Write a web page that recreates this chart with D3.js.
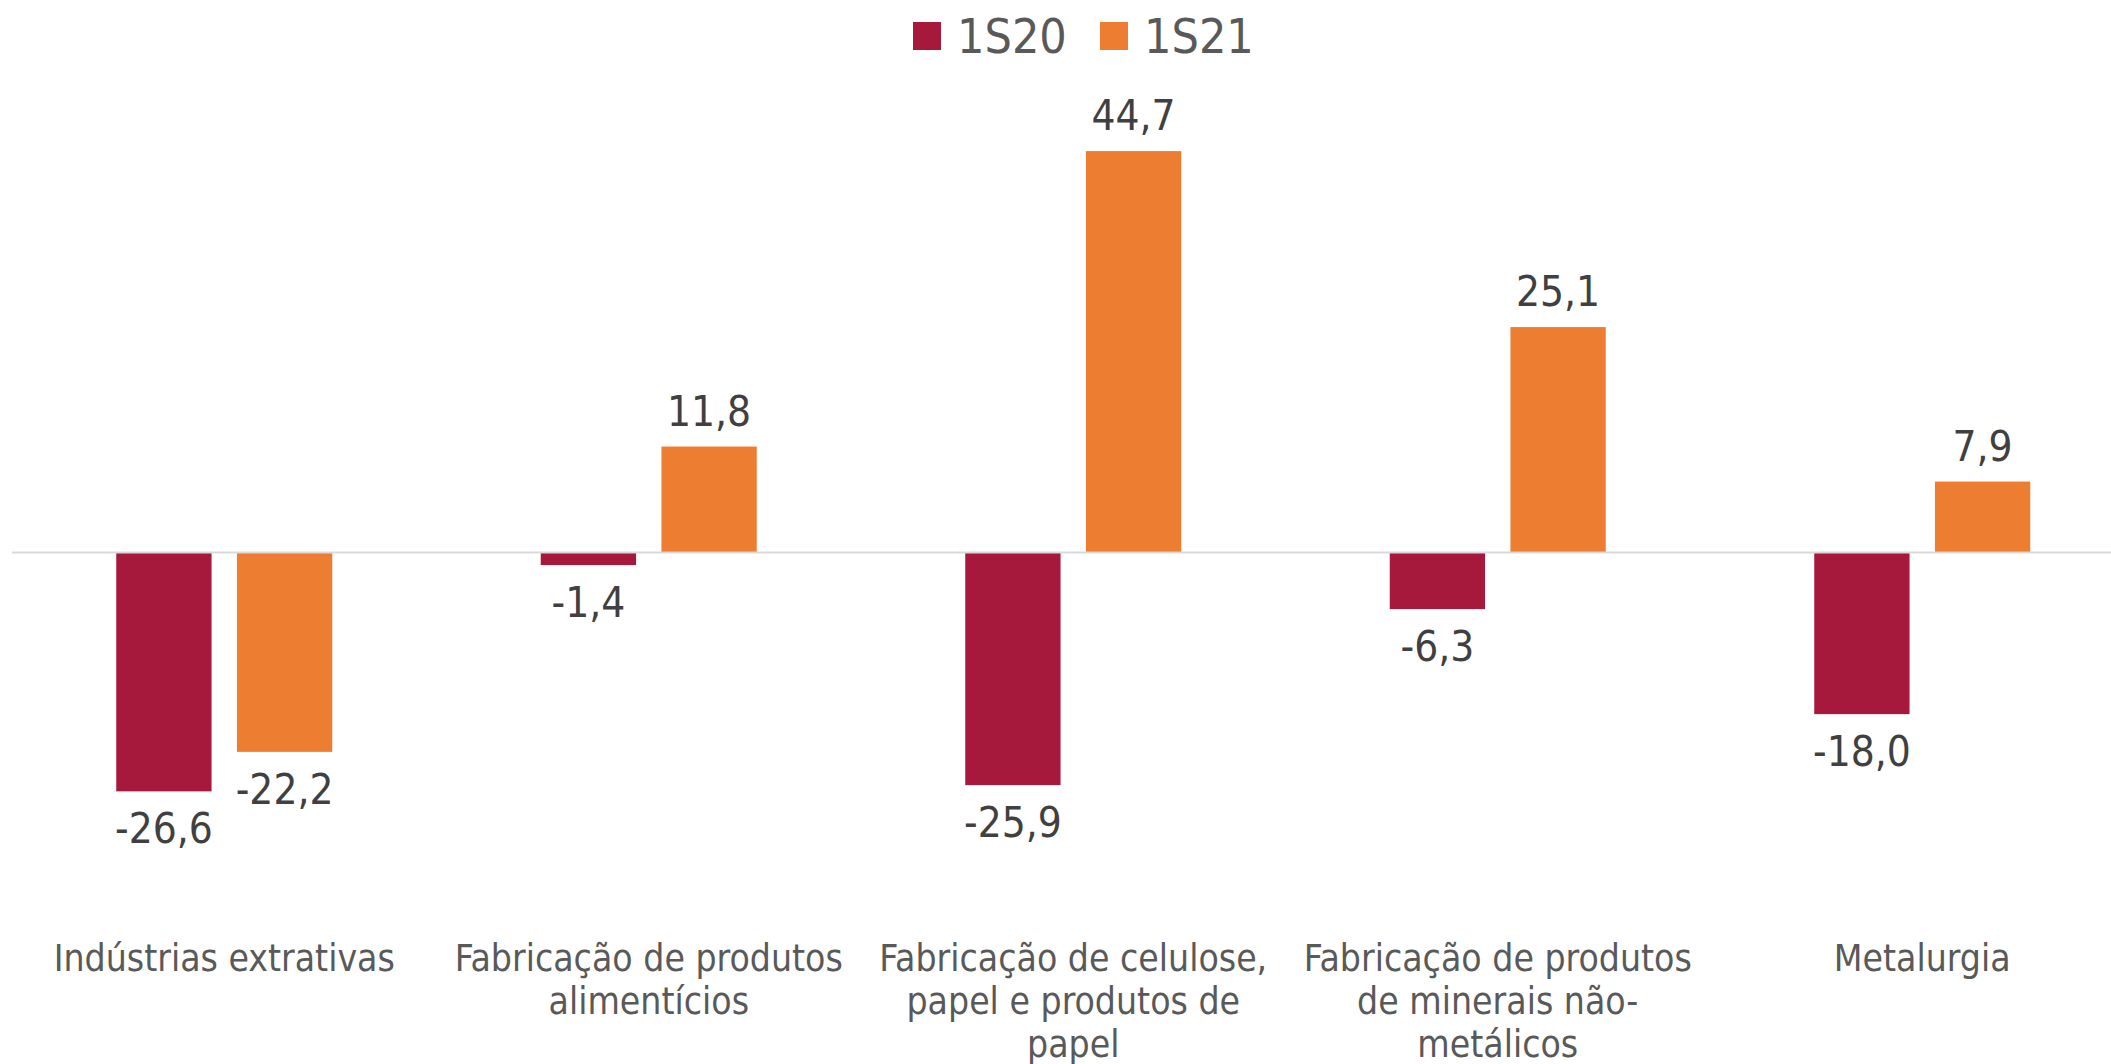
<!DOCTYPE html>
<html>
<head>
<meta charset="utf-8">
<script src="https://cdn.jsdelivr.net/npm/d3@7"></script>
<style>
  html, body { margin: 0; padding: 0; background: #ffffff; }
  svg { display: block; }
  text { font-family: "DejaVu Sans Condensed", "DejaVu Sans", sans-serif; font-stretch: condensed; }
</style>
</head>
<body>
<svg id="chart" width="2111" height="1064"></svg>
<script>
// ---- data ----
const categories = [
  "Indústrias extrativas",
  "Fabricação de produtos\nalimentícios",
  "Fabricação de celulose,\npapel e produtos de\npapel",
  "Fabricação de produtos\nde minerais não-\nmetálicos",
  "Metalurgia"
];
const seriesNames = ["1S20", "1S21"];
const values1S20 = [-26.6, -1.4, -25.9, -6.3, -18.0];
const values1S21 = [-22.2, 11.8, 44.7, 25.1, 7.9];
const seriesColors = ["#A6193C", "#ED7D31"];

// ---- layout ----
const W = 2111, H = 1064;
const svg = d3.select("#chart");

const y = d3.scaleLinear().domain([-30, 50]).range([552.5 + 30 * 8.98, 552.5 - 50 * 8.98]);
const x0 = d3.scaleBand().domain(categories).range([12, 2134.5]).padding(0);
const x1 = d3.scaleBand().domain(seriesNames).range([104.25, 320.25]).paddingInner(0.2104).paddingOuter(0);
const color = d3.scaleOrdinal().domain(seriesNames).range(seriesColors);

const fmt = v => d3.format(".1f")(v).replace(".", ",").replace("−", "-");

const rows = categories.map((c, i) => ({
  cat: c,
  vals: [
    { s: seriesNames[0], v: values1S20[i] },
    { s: seriesNames[1], v: values1S21[i] }
  ]
}));

// bars
const groups = svg.append("g").selectAll("g")
  .data(rows).join("g")
  .attr("transform", d => `translate(${x0(d.cat)},0)`);

groups.selectAll("rect")
  .data(d => d.vals).join("rect")
  .attr("x", d => x1(d.s))
  .attr("width", x1.bandwidth())
  .attr("y", d => y(Math.max(0, d.v)))
  .attr("height", d => Math.abs(y(d.v) - y(0)))
  .attr("fill", d => color(d.s));

// zero line
svg.append("line")
  .attr("x1", 12).attr("x2", W)
  .attr("y1", y(0)).attr("y2", y(0))
  .attr("stroke", "#D9D9D9").attr("stroke-width", 2);

// value labels
groups.selectAll("text.val")
  .data(d => d.vals).join("text")
  .attr("class", "val")
  .attr("x", d => x1(d.s) + x1.bandwidth() / 2)
  .attr("y", d => d.v >= 0 ? y(d.v) - 21 : y(d.v) + 52)
  .attr("text-anchor", "middle")
  .attr("font-size", 42)
  .attr("fill", "#404040")
  .text(d => fmt(d.v));

// category labels
const catLabels = svg.append("g").selectAll("text")
  .data(categories).join("text")
  .attr("x", d => x0(d) + x0.bandwidth() / 2)
  .attr("y", 971)
  .attr("text-anchor", "middle")
  .attr("font-size", 37)
  .attr("fill", "#595959");
catLabels.selectAll("tspan")
  .data(d => d.split("\n")).join("tspan")
  .attr("x", function() { return d3.select(this.parentNode).attr("x"); })
  .attr("dy", (d, i) => i === 0 ? 0 : 43)
  .text(d => d);

// legend
const legend = svg.append("g");
const legX = [913, 1100];
seriesNames.forEach((s, i) => {
  legend.append("rect")
    .attr("x", legX[i]).attr("y", 22)
    .attr("width", 28).attr("height", 28)
    .attr("fill", color(s));
  legend.append("text")
    .attr("x", legX[i] + 44).attr("y", 52.5)
    .attr("font-size", 48)
    .attr("fill", "#595959")
    .text(s);
});
</script>
</body>
</html>
